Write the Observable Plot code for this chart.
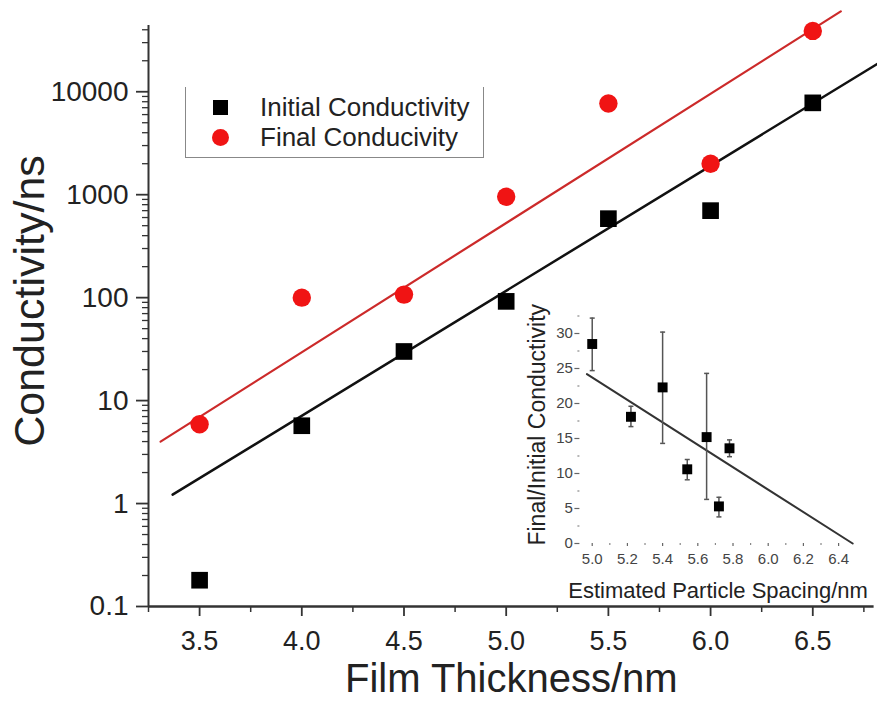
<!DOCTYPE html>
<html>
<head>
<meta charset="utf-8">
<script src="https://cdn.jsdelivr.net/npm/d3@7"></script>
<script src="https://cdn.jsdelivr.net/npm/@observablehq/plot@0.6"></script>
<style>
  html, body { margin: 0; padding: 0; background: #fff; }
  #chart { position: relative; width: 877px; height: 702px; font-family: "Liberation Sans", Arial, sans-serif; }
  #inset { position: absolute; left: 500px; top: 295px; }
  #legend { position: absolute; left: 185px; top: 87px; width: 297px; height: 70px;
    border-left: 1.5px solid #888; border-right: 1.5px solid #888; border-bottom: 1.5px solid #888; }
  .lg-row { position: absolute; left: 0; height: 30px; display: flex; align-items: center; }
  .lg-sym { position: absolute; left: 27px; }
  .lg-txt { position: absolute; left: 74px; font-size: 26px; color: #222; white-space: nowrap; }
</style>
</head>
<body>
<div id="chart">
  <div id="legend">
    <div class="lg-row" style="top:5px"><div class="lg-sym" style="width:15px;height:15px;background:#000;left:27px"></div><div class="lg-txt">Initial Conductivity</div></div>
    <div class="lg-row" style="top:35px"><div class="lg-sym" style="width:17px;height:17px;border-radius:50%;background:#f01414;left:26px"></div><div class="lg-txt">Final Conducivity</div></div>
  </div>
</div>
<script>
// ---- main chart data ----
const thickness = [3.5, 4.0, 4.5, 5.0, 5.5, 6.0, 6.5];
const initialConductivity = [0.18, 5.7, 30, 92, 585, 700, 7800];
const finalConductivity = [5.9, 100, 107, 955, 7700, 2000, 39000];
const initialFitX = [3.368, 6.817];
const initialFitY = [1.22, 18700];
const finalFitX = [3.309, 6.637];
const finalFitY = [4.0, 60300];
const xMajorTicks = [3.5, 4.0, 4.5, 5.0, 5.5, 6.0, 6.5];
const xMinorTicks = [3.25, 3.75, 4.25, 4.75, 5.25, 5.75, 6.25, 6.75];
const yMajorTicks = [0.1, 1, 10, 100, 1000, 10000];

// ---- inset data ----
const spacing = [5.0, 5.22, 5.40, 5.54, 5.65, 5.72, 5.78];
const ratio = [28.5, 18.1, 22.3, 10.6, 15.2, 5.3, 13.6];
const ratioLow = [24.7, 16.7, 14.3, 9.1, 6.3, 3.8, 12.4];
const ratioHigh = [32.2, 19.6, 30.2, 12.0, 24.3, 6.6, 14.8];
const insetFitX = [4.97, 6.48];
const insetFitY = [24.2, 0];
const insetXTicks = [5.0, 5.2, 5.4, 5.6, 5.8, 6.0, 6.2, 6.4];
const insetXMinor = [5.1, 5.3, 5.5, 5.7, 5.9, 6.1, 6.3];
const insetYTicks = [0, 5, 10, 15, 20, 25, 30];
const insetYMinor = [2.5, 7.5, 12.5, 17.5, 22.5, 27.5, 32.5];

const yMinorTicks = [];
for (const d of [0.1, 1, 10, 100, 1000]) for (let k = 2; k <= 9; k++) yMinorTicks.push(d * k);
yMinorTicks.push(20000, 30000, 40000);

const pts = thickness.map((t, i) => ({t, ini: initialConductivity[i], fin: finalConductivity[i]}));
const fitIni = initialFitX.map((x, i) => ({x, y: initialFitY[i]}));
const fitFin = finalFitX.map((x, i) => ({x, y: finalFitY[i]}));

const font = "Liberation Sans, Arial, sans-serif";

const main = Plot.plot({
  width: 877, height: 702,
  marginTop: 25, marginBottom: 96, marginLeft: 148, marginRight: 3.4,
  x: {domain: [3.25, 6.8]},
  y: {type: "log", domain: [0.1, 44000]},
  style: {fontFamily: font, color: "#222", background: "transparent", overflow: "visible"},
  marks: [
    Plot.ruleY([0.1], {stroke: "#333", strokeWidth: 2.5}),
    Plot.ruleX([3.25], {y1: 0.1, y2: 44000, stroke: "#333", strokeWidth: 2}),
    Plot.axisX(xMajorTicks, {tickSize: 10, tickPadding: 14, fontSize: 27, tickFormat: d3.format(".1f"), label: null, strokeWidth: 1.8, stroke: "#333"}),
    Plot.axisX(xMinorTicks, {tickSize: 6, tickFormat: () => "", label: null, strokeWidth: 1.5, stroke: "#333"}),
    Plot.axisY(yMajorTicks, {tickSize: 12, tickPadding: 8, fontSize: 28, tickFormat: d => String(d), label: null, strokeWidth: 1.8, stroke: "#333"}),
    Plot.axisY(yMinorTicks, {tickSize: 6, tickFormat: () => "", label: null, strokeWidth: 1.3, stroke: "#333"}),
    Plot.line(fitIni, {x: "x", y: "y", stroke: "#111", strokeWidth: 2.5}),
    Plot.line(fitFin, {x: "x", y: "y", stroke: "#cc2a2a", strokeWidth: 2.2}),
    Plot.dot(pts, {x: "t", y: "ini", symbol: "square", r: 9.4, fill: "#000"}),
    Plot.dot(pts, {x: "t", y: "fin", symbol: "circle", r: 9.2, fill: "#f01414"}),
    Plot.text(["Film Thickness/nm"], {frameAnchor: "bottom", textAnchor: "middle", dy: 73, fontSize: 40, fill: "#222", lineAnchor: "middle"}),
    Plot.text(["Conductivity/ns"], {frameAnchor: "left", textAnchor: "middle", rotate: -90, dx: -118, dy: -15, fontSize: 43, fill: "#222", lineAnchor: "middle"})
  ]
});
document.getElementById("chart").prepend(main);

const capSymbol = {draw(ctx, size) { const w = Math.sqrt(size / Math.PI); ctx.moveTo(-w, 0); ctx.lineTo(w, 0); }};
const ins = spacing.map((s, i) => ({s, r: ratio[i], lo: ratioLow[i], hi: ratioHigh[i]}));
const insFit = insetFitX.map((x, i) => ({x, y: insetFitY[i]}));

const inset = Plot.plot({
  width: 377, height: 310,
  marginLeft: 79.4, marginRight: 21.3, marginTop: 20.5, marginBottom: 62,
  x: {domain: [4.93, 6.5]},
  y: {domain: [0, 32.5]},
  style: {fontFamily: font, color: "#444", background: "transparent", overflow: "visible"},
  marks: [
    Plot.axisY(insetYTicks, {tickSize: 5, tickPadding: 2, fontSize: 15, label: null, stroke: "#666", strokeWidth: 1.2}),
    Plot.axisY(insetYMinor, {tickSize: 2, tickFormat: () => "", label: null, stroke: "#888", strokeWidth: 1.2}),
    Plot.axisX(insetXTicks, {tickSize: 3, tickPadding: 7, fontSize: 15, tickFormat: d3.format(".1f"), label: null, stroke: "#666", strokeWidth: 1.2}),
    Plot.axisX(insetXMinor, {tickSize: 2, tickFormat: () => "", label: null, stroke: "#888", strokeWidth: 1.2}),
    Plot.line(insFit, {x: "x", y: "y", stroke: "#333", strokeWidth: 2}),
    Plot.ruleX(ins, {x: "s", y1: "lo", y2: "hi", stroke: "#555", strokeWidth: 1.5}),
    Plot.dot(ins, {x: "s", y: "lo", symbol: capSymbol, r: 2.5, stroke: "#555", strokeWidth: 1.5}),
    Plot.dot(ins, {x: "s", y: "hi", symbol: capSymbol, r: 2.5, stroke: "#555", strokeWidth: 1.5}),
    Plot.dot(ins, {x: "s", y: "r", symbol: "square", r: 5.6, fill: "#000"}),
    Plot.text(["Estimated Particle Spacing/nm"], {frameAnchor: "bottom", textAnchor: "middle", dy: 47, fontSize: 22, fill: "#222", lineAnchor: "middle"}),
    Plot.text(["Final/Initial Conductivity"], {frameAnchor: "left", textAnchor: "middle", rotate: -90, dx: -42, dy: -5, fontSize: 23, fill: "#222", lineAnchor: "middle"})
  ]
});
inset.id = "inset";
document.getElementById("chart").appendChild(inset);
</script>
</body>
</html>
